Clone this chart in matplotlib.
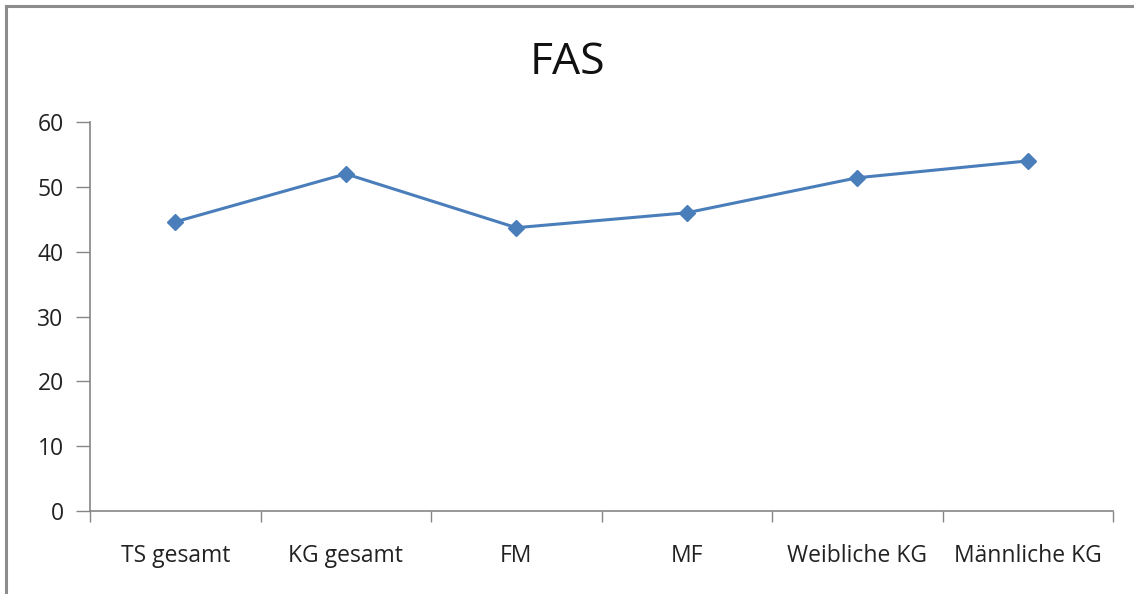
import numpy as np
import matplotlib.pyplot as plt
from matplotlib.ticker import FixedLocator, NullFormatter

categories = ['TS gesamt', 'KG gesamt', 'FM', 'MF', 'Weibliche KG', 'Männliche KG']
fas_values = [44.6, 52.0, 43.7, 46.0, 51.4, 54.0]
y_ticks = [0, 10, 20, 30, 40, 50, 60]

plt.rcParams['font.family'] = ['Open Sans', 'DejaVu Sans']

fig = plt.figure(figsize=(11.34, 5.94), dpi=100)
ax = fig.add_axes([0.0794, 0.1397, 0.9021, 0.6549])

x = np.arange(len(categories))
ax.plot(x, fas_values, color='#4a7ebb', linewidth=2.2, marker='D', markersize=8,
        markerfacecolor='#4a7ebb', markeredgecolor='#4a7ebb')

ax.set_xlim(-0.5, len(categories) - 0.5)
ax.set_ylim(0, 60)

# ticks on category boundaries, labels centred on the categories
ax.xaxis.set_major_locator(FixedLocator(np.arange(-0.5, len(categories), 1.0)))
ax.xaxis.set_major_formatter(NullFormatter())
ax.xaxis.set_minor_locator(FixedLocator(x))
ax.set_xticklabels(categories, minor=True)
ax.tick_params(axis='x', which='major', length=8, width=1, color='#868686', direction='out')
ax.tick_params(axis='x', which='minor', length=0, pad=24, labelsize=16.5, labelcolor='#222222')

ax.set_yticks(y_ticks)
ax.tick_params(axis='y', length=10, width=1, color='#868686', pad=9, labelsize=16.5,
               labelcolor='#222222')

for side in ['top', 'right']:
    ax.spines[side].set_visible(False)
for side in ['left', 'bottom']:
    ax.spines[side].set_color('#868686')
    ax.spines[side].set_linewidth(1.2)

fig.text(0.5, 0.895, 'FAS', ha='center', va='center', fontsize=32, color='#111111')

# chart frame: only top and left edges visible
fig.add_artist(plt.Line2D([0.0053, 1.0], [0.9899, 0.9899], color='#8c8c8c', linewidth=2.2,
                          transform=fig.transFigure))
fig.add_artist(plt.Line2D([0.0053, 0.0053], [0.0, 0.9899], color='#8c8c8c', linewidth=2.2,
                          transform=fig.transFigure))

fig.savefig('out.png', dpi=100)
